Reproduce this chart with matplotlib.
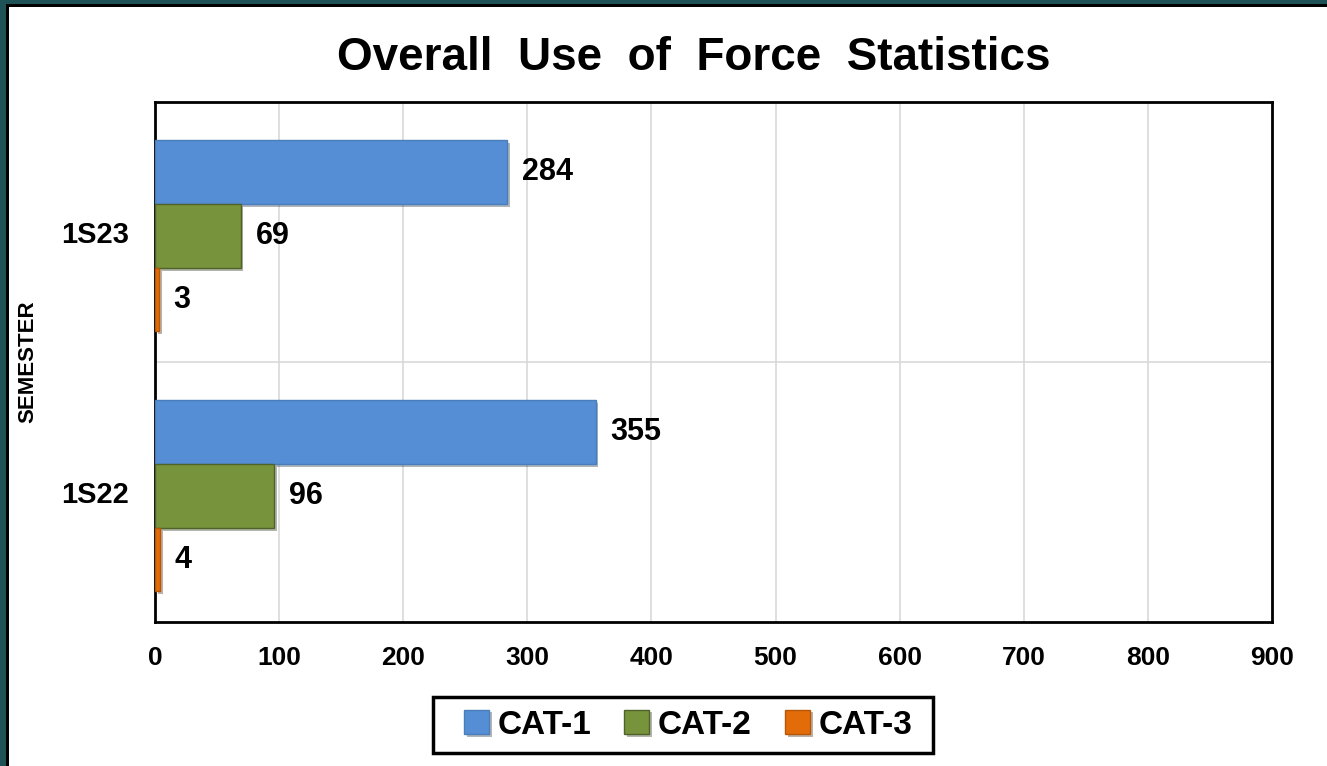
"""Overall use of force statistics: horizontal grouped bar chart."""
import matplotlib

matplotlib.use("Agg")

import matplotlib.pyplot as plt  # noqa: E402
import numpy as np  # noqa: E402
from matplotlib import patheffects as pe  # noqa: E402
from matplotlib.patches import Rectangle  # noqa: E402

# ---------------------------------------------------------------------------
# Data
# ---------------------------------------------------------------------------
SEMESTERS = ["1S22", "1S23"]
CAT_1 = [355, 284]
CAT_2 = [96, 69]
CAT_3 = [4, 3]
SERIES_NAMES = ["CAT-1", "CAT-2", "CAT-3"]
X_TICKS = [0, 100, 200, 300, 400, 500, 600, 700, 800, 900]

FACE_COLORS = ["#558ED5", "#77933C", "#E36C09"]
EDGE_COLORS = ["#4A7EBB", "#4F6228", "#B65708"]

plt.rcParams["font.family"] = ["Liberation Sans", "DejaVu Sans"]
plt.rcParams["font.weight"] = "bold"

W, H = 1327, 766
fig = plt.figure(figsize=(W / 100, H / 100), dpi=100)
fig.patch.set_facecolor("white")


def px_rect(x0, y0, x1, y1, **kw):
    """Rectangle in figure pixels measured from the top-left corner."""
    return Rectangle((x0 / W, 1 - y1 / H), (x1 - x0) / W, (y1 - y0) / H,
                     transform=fig.transFigure, **kw)


# frame: teal strip + black line on top and left edges
fig.patches.append(px_rect(0, 0, W, 4, facecolor="#1F5257", edgecolor="none", zorder=0))
fig.patches.append(px_rect(0, 4, W, 7, facecolor="black", edgecolor="none", zorder=0))
fig.patches.append(px_rect(0, 0, 6, H, facecolor="#1F5257", edgecolor="none", zorder=0))
fig.patches.append(px_rect(6, 4, 9, H, facecolor="black", edgecolor="none", zorder=0))

ax = fig.add_axes([155 / W, 1 - 622 / H, (1272 - 155) / W, (622 - 102) / H])

y = np.arange(len(SEMESTERS))
bar_h = 0.245
offsets = [bar_h, 0, -bar_h]
shadow = [pe.SimplePatchShadow(offset=(2, -2), alpha=0.35), pe.Normal()]

handles = []
for values, name, face, edge, off in zip(
    [CAT_1, CAT_2, CAT_3], SERIES_NAMES, FACE_COLORS, EDGE_COLORS, offsets
):
    bars = ax.barh(y + off - 0.015, values, height=bar_h, color=face, edgecolor=edge,
                   linewidth=1.0, label=name, zorder=3)
    for b in bars:
        b.set_path_effects(shadow)
    handles.append(bars)
    for yi, v in zip(y, values):
        ax.text(v + 12, yi + off - 0.015, str(v), va="center", ha="left",
                fontsize=22, fontweight="bold", zorder=4)

ax.set_xlim(0, 900)
ax.set_ylim(-0.5, 1.5)
ax.set_xticks(X_TICKS)
ax.set_yticks(y)
ax.set_yticklabels(SEMESTERS)
ax.tick_params(axis="both", length=0)
ax.tick_params(axis="x", pad=17, labelsize=19)
ax.tick_params(axis="y", pad=19, labelsize=21)
for lbl in ax.get_xticklabels() + ax.get_yticklabels():
    lbl.set_fontweight("bold")

ax.grid(axis="x", color="#D9D9D9", linewidth=1.2, zorder=0)
ax.axhline(0.5, color="#D9D9D9", linewidth=1.2, zorder=0)
for spine in ax.spines.values():
    spine.set_linewidth(2)
    spine.set_color("black")

ax.set_ylabel("SEMESTER", fontsize=16, fontweight="bold")
ax.yaxis.set_label_coords(-117 / 1117, 0.5)

fig.text(694 / W, 1 - 58 / H, "Overall  Use  of  Force  Statistics", ha="center",
         va="center", fontsize=33, fontweight="bold")

# legend without its own frame; a wider box is drawn around it
leg = fig.legend(handles=handles, labels=SERIES_NAMES, loc="center",
                 bbox_to_anchor=(688 / W, 1 - 725 / H), ncol=3, frameon=False,
                 handlelength=0.75, handleheight=0.75, handletextpad=0.25,
                 columnspacing=1.0, prop={"weight": "bold", "size": 24})
fig.patches.append(px_rect(433, 697, 933, 753, facecolor="none", edgecolor="black",
                           linewidth=2.5, zorder=5))

fig.savefig("out.png", dpi=100)
